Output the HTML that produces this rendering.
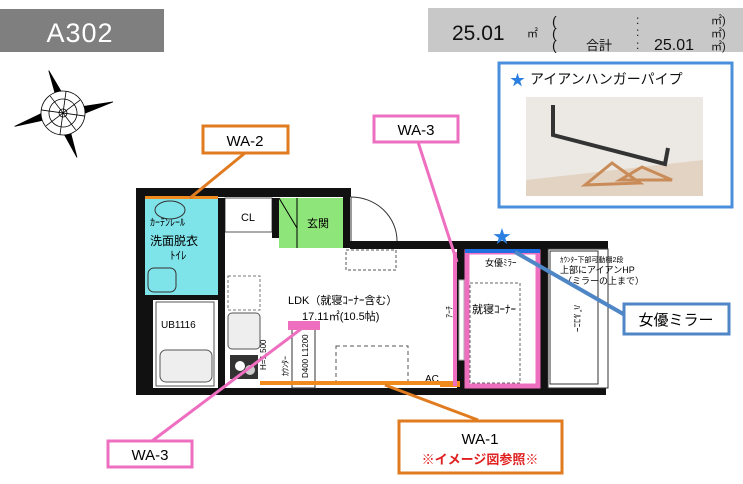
<!DOCTYPE html>
<html><head><meta charset="utf-8"><style>
html,body{margin:0;padding:0;background:#fff;}
svg{display:block;font-family:"Liberation Sans","Noto Sans CJK JP",sans-serif;}
</style></head><body>
<svg width="743" height="484" viewBox="0 0 743 484" xmlns="http://www.w3.org/2000/svg">
<!-- header -->
<rect x="0" y="9" width="164" height="43" fill="#7f7f7f"/>
<text x="80" y="42" font-size="27" fill="#fff" text-anchor="middle" letter-spacing="1">A302</text>
<rect x="428" y="8" width="315" height="44" fill="#c8c8c8"/>
<text x="452" y="40" font-size="21" fill="#111">25.01</text>
<text x="527" y="37" font-size="11" fill="#111">㎡</text>
<text x="552" y="26" font-size="14" fill="#111">(</text>
<text x="552" y="38" font-size="14" fill="#111">(</text>
<text x="552" y="50" font-size="14" fill="#111">(</text>
<text x="586" y="50" font-size="13" fill="#111">合計</text>
<text x="636" y="24" font-size="12" fill="#111">:</text>
<text x="636" y="36" font-size="12" fill="#111">:</text>
<text x="636" y="49" font-size="12" fill="#111">:</text>
<text x="654" y="50" font-size="16" fill="#111">25.01</text>
<text x="711" y="24" font-size="11" fill="#111">㎡)</text>
<text x="711" y="37" font-size="11" fill="#111">㎡)</text>
<text x="711" y="50" font-size="11" fill="#111">㎡)</text>

<!-- compass -->
<g transform="translate(63,113) rotate(8)" stroke="#000" stroke-width="0.8">
<polygon points="-20,-40 -6,-8 4,-10" fill="#000"/>
<polygon points="48,-18 8,-6 10,4" fill="#000"/>
<polygon points="20,42 6,8 -4,10" fill="#000"/>
<polygon points="-46,20 -8,6 -10,-4" fill="#000"/>
<circle r="22" fill="#fff"/><circle r="14" fill="none"/><circle r="4" fill="none"/>
<line x1="-22" y1="0" x2="22" y2="0"/><line x1="0" y1="-22" x2="0" y2="22"/>
<line x1="-15" y1="-15" x2="15" y2="15"/><line x1="-15" y1="15" x2="15" y2="-15"/>
</g>

<!-- photo box -->
<rect x="499" y="63" width="233" height="144" fill="#fff" stroke="#4a8fdb" stroke-width="3"/>
<text x="510" y="85" font-size="15" fill="#2a7fe0">★</text>
<text x="530" y="84" font-size="14" fill="#111">アイアンハンガーパイプ</text>
<rect x="526" y="97" width="177" height="99" fill="#ece9e4"/>
<polygon points="526,180 703,160 703,196 526,196" fill="#e3d3c3"/>
<path d="M553,105 L553,135 L665,164 L668,148" stroke="#333" stroke-width="4" fill="none"/>
<path d="M585,185 L612,163 L640,183 Z M620,180 L642,167 L672,180 Z" stroke="#c98b58" stroke-width="3" fill="none"/>

<!-- floor plan -->
<rect x="145" y="198" width="73" height="97" fill="#7fe3ea"/>
<rect x="279" y="198" width="64" height="50" fill="#8ee57a"/>
<rect x="225" y="198" width="47" height="34" fill="#fff" stroke="#555"/>
<text x="248" y="221" font-size="11" text-anchor="middle">CL</text>
<text x="318" y="227" font-size="11" text-anchor="middle">玄関</text>
<line x1="279" y1="198" x2="297" y2="228" stroke="#000"/>
<line x1="297" y1="198" x2="297" y2="248" stroke="#000"/>
<text x="150" y="226" font-size="10">ｶｰﾃﾝﾚｰﾙ</text>
<text x="150" y="245" font-size="12">洗面脱衣</text>
<text x="170" y="259" font-size="11">ﾄｲﾚ</text>
<ellipse cx="170" cy="210" rx="15" ry="9" fill="none" stroke="#333"/>
<rect x="148" y="268" width="28" height="24" rx="6" fill="none" stroke="#333"/>
<!-- walls -->
<g fill="#111">
<rect x="136" y="188" width="215" height="9"/>
<rect x="136" y="188" width="9" height="207"/>
<rect x="136" y="295" width="89" height="5"/>
<rect x="136" y="300" width="17" height="95"/>
<rect x="218" y="198" width="7" height="190"/>
<rect x="272" y="198" width="7" height="40"/>
<rect x="343" y="188" width="7" height="60"/>
<rect x="350" y="241" width="258" height="8"/>
<rect x="136" y="388" width="470" height="7"/>
<rect x="457" y="249" width="8" height="144"/>
<rect x="540" y="249" width="8" height="144"/>
</g>
<rect x="145" y="196" width="73" height="3" fill="#f08a1c"/>
<path d="M351,197 A46,44 0 0 1 397,241" fill="none" stroke="#333"/>
<line x1="351" y1="197" x2="351" y2="241" stroke="#333"/>
<!-- UB -->
<rect x="156" y="302" width="58" height="84" fill="#fff" stroke="#555"/>
<text x="161" y="328" font-size="10">UB1116</text>
<rect x="160" y="350" width="52" height="32" rx="6" fill="#eee" stroke="#555"/>
<!-- kitchen -->
<rect x="228" y="276" width="32" height="34" fill="none" stroke="#777" stroke-dasharray="3,2"/>
<rect x="228" y="313" width="32" height="36" rx="4" fill="#eee" stroke="#555"/>
<rect x="230" y="355" width="28" height="24" fill="#333"/>
<circle cx="240" cy="366" r="5" fill="#fff"/><circle cx="250" cy="370" r="5" fill="#ccc"/>
<text x="266" y="370" font-size="8" transform="rotate(-90 266 370)">H=1,500</text>
<!-- LDK -->
<text x="288" y="304" font-size="11">LDK（就寝ｺｰﾅｰ含む）</text>
<text x="302" y="320" font-size="11">17.11㎡(10.5帖)</text>
<rect x="292" y="325" width="23" height="63" fill="none" stroke="#333"/>
<text x="288" y="376" font-size="8" transform="rotate(-90 288 376)">ｶｳﾝﾀｰ</text>
<text x="308" y="378" font-size="8" transform="rotate(-90 308 378)">D400 L1200</text>
<rect x="336" y="346" width="72" height="38" fill="none" stroke="#555" stroke-dasharray="4,3"/>
<rect x="346" y="250" width="50" height="20" fill="none" stroke="#555" stroke-dasharray="3,2"/>
<text x="425" y="382" font-size="10">AC</text>
<rect x="260" y="381" width="200" height="4" fill="#f08a1c"/>
<rect x="440" y="381" width="20" height="6" fill="#f08a1c"/>
<!-- sleeping corner -->
<rect x="465" y="249" width="75" height="139" fill="#fff"/>
<rect x="467" y="252" width="71" height="134" fill="none" stroke="#ee6fc0" stroke-width="5"/>
<rect x="465" y="249" width="75" height="4" fill="#1e6fe0"/>
<text x="485" y="266" font-size="9">女優ﾐﾗｰ</text>
<rect x="470" y="283" width="50" height="100" fill="none" stroke="#666" stroke-dasharray="3,2"/>
<text x="472" y="313" font-size="11">就寝ｺｰﾅｰ</text>
<rect x="459" y="280" width="5" height="80" fill="#fff" stroke="#aaa"/>
<rect x="453" y="252" width="4" height="134" fill="#ee6fc0"/>
<text x="452" y="318" font-size="8" transform="rotate(-90 452 318)">ｱｰﾁ</text>
<!-- balcony -->
<rect x="548" y="249" width="60" height="139" fill="#fff" stroke="#333"/>
<rect x="550" y="251" width="48" height="133" fill="none" stroke="#333"/>
<text x="560" y="262" font-size="7">ｶｳﾝﾀｰ下部可動棚2段</text>
<text x="560" y="273" font-size="9">上部にアイアンHP</text>
<text x="563" y="284" font-size="9">（ミラーの上まで）</text>
<text x="574" y="305" font-size="9" transform="rotate(90 574 305)">ﾊﾞﾙｺﾆｰ</text>
<text x="502" y="243" font-size="18" fill="#2a7fe0" text-anchor="middle">★</text>

<!-- callouts -->
<line x1="245" y1="153" x2="190" y2="198" stroke="#e07b20" stroke-width="3"/>
<rect x="203" y="126" width="85" height="27" fill="#fff" stroke="#e07b20" stroke-width="3"/>
<text x="245" y="146" font-size="15" text-anchor="middle">WA-2</text>

<line x1="418" y1="142" x2="457" y2="262" stroke="#ee6fc0" stroke-width="3"/>
<rect x="374" y="116" width="84" height="26" fill="#fff" stroke="#ee6fc0" stroke-width="3"/>
<text x="416" y="135" font-size="15" text-anchor="middle">WA-3</text>

<line x1="152" y1="441" x2="305" y2="326" stroke="#ee6fc0" stroke-width="3"/>
<rect x="288" y="321" width="32" height="9" fill="#ee6fc0"/>
<rect x="108" y="441" width="84" height="26" fill="#fff" stroke="#ee6fc0" stroke-width="3"/>
<text x="150" y="460" font-size="15" text-anchor="middle">WA-3</text>

<line x1="385" y1="385" x2="478" y2="420" stroke="#e07b20" stroke-width="3"/>
<rect x="399" y="421" width="163" height="52" fill="#fff" stroke="#e07b20" stroke-width="3"/>
<text x="480" y="444" font-size="15" text-anchor="middle">WA-1</text>
<text x="480" y="464" font-size="13" fill="#e02020" font-weight="bold" text-anchor="middle">※イメージ図参照※</text>

<line x1="515" y1="252" x2="625" y2="315" stroke="#4f86c6" stroke-width="4"/>
<rect x="624" y="304" width="105" height="30" fill="#fff" stroke="#4f86c6" stroke-width="3"/>
<text x="676" y="325" font-size="15" text-anchor="middle">女優ミラー</text>
</svg>
</body></html>
